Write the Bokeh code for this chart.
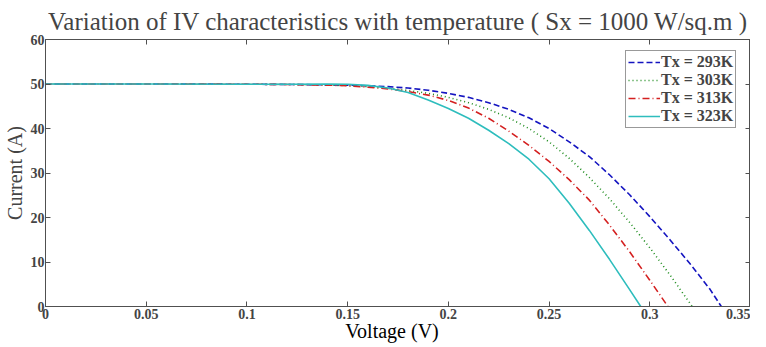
from bokeh.plotting import figure
from bokeh.models import FixedTicker, LinearAxis, Range1d, Legend, LegendItem, Div
from bokeh.layouts import column
from bokeh.embed import file_html
from bokeh.resources import INLINE

# ---- data ----
v_293 = [0, 0.05, 0.10, 0.12, 0.14, 0.15, 0.16, 0.17, 0.18, 0.19, 0.20, 0.21, 0.22, 0.23, 0.24,
         0.25, 0.26, 0.27, 0.28, 0.29, 0.30, 0.31, 0.32, 0.33, 0.3355]
i_293 = [50, 50, 49.95, 49.9, 49.8, 49.75, 49.6, 49.4, 49.1, 48.6, 47.9, 47.0, 45.8, 44.3, 42.4,
         40.0, 37.0, 33.7, 29.6, 25.1, 20.2, 15.0, 9.6, 3.8, 0]

v_303 = [0, 0.05, 0.10, 0.12, 0.14, 0.15, 0.16, 0.17, 0.18, 0.19, 0.20, 0.21, 0.22, 0.23, 0.24,
         0.25, 0.26, 0.27, 0.28, 0.29, 0.30, 0.31, 0.32, 0.3211]
i_303 = [50, 50, 49.95, 49.9, 49.75, 49.65, 49.4, 49.05, 48.55, 47.9, 47.0, 45.8, 44.3, 42.4, 40.0,
         37.0, 33.3, 29.0, 24.2, 18.9, 13.2, 7.1, 0.7, 0]

v_313 = [0, 0.05, 0.10, 0.12, 0.14, 0.15, 0.16, 0.17, 0.18, 0.19, 0.20, 0.21, 0.22, 0.23, 0.24,
         0.25, 0.26, 0.27, 0.28, 0.29, 0.30, 0.309]
i_313 = [50, 50, 49.95, 49.9, 49.75, 49.6, 49.3, 48.9, 48.3, 47.5, 46.3, 44.6, 42.3, 39.4, 36.2,
         32.6, 28.5, 23.9, 18.3, 12.3, 5.9, 0]

v_323 = [0, 0.05, 0.10, 0.12, 0.14, 0.15, 0.16, 0.17, 0.18, 0.19, 0.20, 0.21, 0.22, 0.23, 0.24,
         0.25, 0.26, 0.27, 0.28, 0.29, 0.2955]
i_323 = [50, 50, 49.95, 49.95, 50.0, 49.95, 49.7, 49.1, 48.1, 46.4, 44.5, 42.3, 39.6, 36.6, 33.1,
         28.7, 23.2, 17.1, 10.6, 3.8, 0]

labels = ["Tx = 293K", "Tx = 303K", "Tx = 313K", "Tx = 323K"]
x_ticks = [0, 0.05, 0.1, 0.15, 0.2, 0.25, 0.3, 0.35]
x_tick_labels = ["0", "0.05", "0.1", "0.15", "0.2", "0.25", "0.3", "0.35"]
y_ticks = [0, 10, 20, 30, 40, 50, 60]
x_title = "Voltage (V)"
y_title = "Current (A)"

SERIF = "Liberation Serif"
AXIS_COLOR = "#505050"

p = figure(width=750, height=321, output_backend="svg", toolbar_location=None,
           x_range=Range1d(0, 0.35), y_range=Range1d(0, 60),
           min_border_left=40, min_border_right=0, min_border_top=31, min_border_bottom=0,
           title="Variation of IV characteristics with temperature ( Sx = 1000 W/sq.m )")

p.title.text_font = SERIF
p.title.text_font_size = "25px"
p.title.text_font_style = "normal"
p.title.align = "center"
p.title.offset = 0
p.title.standoff = 10

p.xgrid.visible = False
p.ygrid.visible = False
p.outline_line_color = AXIS_COLOR
p.outline_line_width = 1
p.background_fill_color = "white"
p.border_fill_color = "white"

r1 = p.line(v_293, i_293, line_color="#1414C0", line_width=1.6, line_dash="6 3")
r2 = p.line(v_303, i_303, line_color="#1E8C1E", line_width=1.6, line_dash="1 3")
r3 = p.line(v_313, i_313, line_color="#D42020", line_width=1.6, line_dash="7 3 1 3")
r4 = p.line(v_323, i_323, line_color="#2EBDBD", line_width=1.6)

def style_axis(ax, show_labels=True):
    ax.axis_line_color = AXIS_COLOR
    ax.major_tick_line_color = AXIS_COLOR
    ax.major_tick_in = 5
    ax.major_tick_out = 0
    ax.minor_tick_line_color = None
    ax.major_label_text_font = SERIF
    ax.major_label_text_font_style = "bold"
    ax.major_label_text_font_size = "14px"
    ax.major_label_standoff = 1
    if not show_labels:
        ax.major_label_text_font_size = "0px"
        ax.major_label_text_color = None
        ax.major_label_standoff = 0

xa = p.xaxis[0]
xa.ticker = FixedTicker(ticks=x_ticks)
xa.major_label_overrides = {t: l for t, l in zip(x_ticks, x_tick_labels)}
style_axis(xa)
xa.major_label_standoff = 2

ya = p.yaxis[0]
ya.ticker = FixedTicker(ticks=y_ticks)
ya.axis_label = y_title
ya.axis_label_text_font = SERIF
ya.axis_label_text_font_style = "normal"
ya.axis_label_text_font_size = "20px"
ya.axis_label_standoff = 2
style_axis(ya)

top = LinearAxis(ticker=FixedTicker(ticks=x_ticks))
style_axis(top, show_labels=False)
p.add_layout(top, "above")
right = LinearAxis(ticker=FixedTicker(ticks=y_ticks))
style_axis(right, show_labels=False)
p.add_layout(right, "right")

legend = Legend(items=[LegendItem(label=labels[0], renderers=[r1]),
                       LegendItem(label=labels[1], renderers=[r2]),
                       LegendItem(label=labels[2], renderers=[r3]),
                       LegendItem(label=labels[3], renderers=[r4])],
                location=(580, 178))
legend.margin = 0
legend.padding = 2
legend.spacing = 0
legend.label_text_font = SERIF
legend.label_text_font_style = "bold"
legend.label_text_font_size = "16px"
legend.label_height = 12
legend.glyph_height = 12
legend.glyph_width = 32
legend.label_standoff = 1
legend.border_line_color = "#333333"
legend.border_line_width = 1
legend.background_fill_alpha = 1
p.add_layout(legend, "center")

# x-axis title below the plot, as real text
xlabel = Div(text=x_title, width=750, height=18, margin=0,
             styles={"font-family": SERIF, "font-size": "20px", "color": "black",
                     "text-align": "center", "padding-left": "34px", "line-height": "18px",
                     "box-sizing": "border-box", "width": "750px",
                     "position": "relative", "top": "1px"})

layout = column(p, xlabel, spacing=0)

open("out.html", "w").write(file_html(layout, INLINE))
